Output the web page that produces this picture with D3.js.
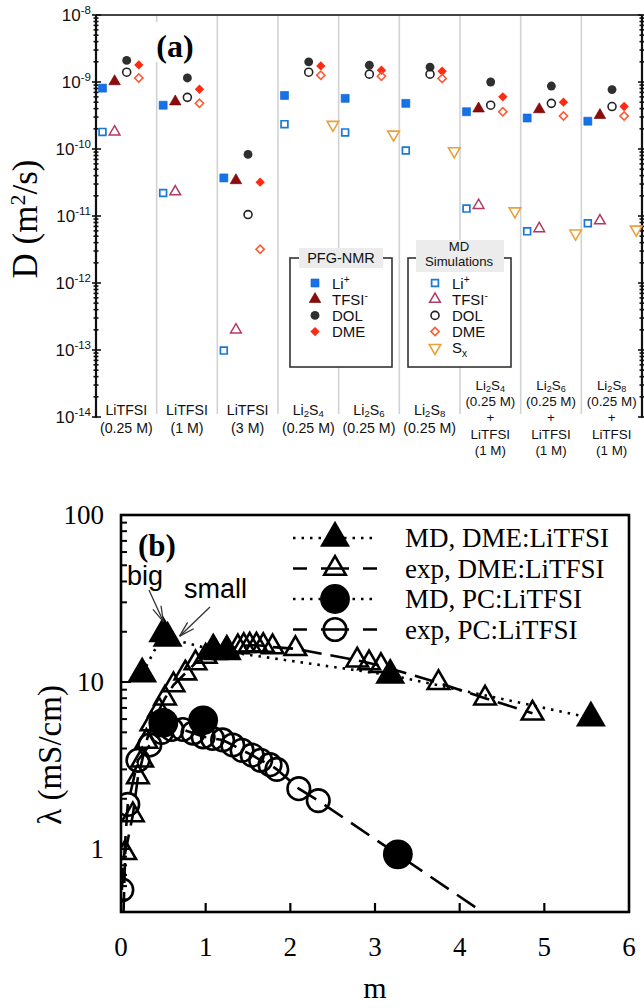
<!DOCTYPE html>
<html><head><meta charset="utf-8">
<script src="https://cdn.jsdelivr.net/npm/d3@7"></script>
<style>body{margin:0;background:#fff} svg{display:block}</style>
</head><body>
<svg id="c" width="644" height="1008"></svg>
<script>
// ================= Panel (a) data =================
const groupLabels = [
  ["LiTFSI","(0.25 M)"], ["LiTFSI","(1 M)"], ["LiTFSI","(3 M)"],
  ["Li_2S_4","(0.25 M)"], ["Li_2S_6","(0.25 M)"], ["Li_2S_8","(0.25 M)"],
  ["Li_2S_4","(0.25 M)","+","LiTFSI","(1 M)"],
  ["Li_2S_6","(0.25 M)","+","LiTFSI","(1 M)"],
  ["Li_2S_8","(0.25 M)","+","LiTFSI","(1 M)"]
];
const species = ["Li","TFSI","DOL","DME","Sx"];
// PFG-NMR (m^2/s)
const pfgLi   = [8.1e-10, 4.5e-10, 3.7e-11, 6.3e-10, 5.7e-10, 4.8e-10, 3.6e-10, 2.9e-10, 2.6e-10];
const pfgTFSI = [1.02e-9, 5.1e-10, 3.4e-11, null, null, null, 4.0e-10, 3.9e-10, 3.2e-10];
const pfgDOL  = [2.1e-9, 1.15e-9, 8.3e-11, 2.0e-9, 1.78e-9, 1.67e-9, 1.0e-9, 8.7e-10, 7.7e-10];
const pfgDME  = [1.8e-9, 7.8e-10, 3.2e-11, 1.74e-9, 1.5e-9, 1.45e-9, 6.0e-10, 5.0e-10, 4.3e-10];
// MD simulations (m^2/s)
const mdLi    = [1.8e-10, 2.2e-11, 9.8e-14, 2.35e-10, 1.77e-10, 9.5e-11, 1.29e-11, 5.9e-12, 7.8e-12];
const mdTFSI  = [1.8e-10, 2.3e-11, 2.0e-13, null, null, null, 1.44e-11, 6.5e-12, 8.5e-12];
const mdDOL   = [1.4e-9, 5.9e-10, 1.05e-11, 1.4e-9, 1.31e-9, 1.31e-9, 4.5e-10, 4.8e-10, 4.3e-10];
const mdDME   = [1.15e-9, 4.8e-10, 3.2e-12, 1.26e-9, 1.22e-9, 1.13e-9, 3.6e-10, 3.1e-10, 3.1e-10];
const mdSx    = [null, null, null, 2.3e-10, 1.65e-10, 9.3e-11, 1.18e-11, 5.5e-12, 6.3e-12];
const yTickExpA = [-14,-13,-12,-11,-10,-9,-8];
const pfgLegendLabels = ["Li^+","TFSI^-","DOL","DME"];
const mdLegendLabels  = ["Li^+","TFSI^-","DOL","DME","S_x"];

// ================= Panel (b) data =================
const mdDmeM = [0.25, 0.5, 0.55, 1.09, 1.25, 3.18, 5.55];
const mdDmeL = [11.2, 19.5, 18.3, 15.6, 15.2, 11.0, 6.1];
const expDmeM = [0.05, 0.14, 0.2, 0.25, 0.3, 0.36, 0.45, 0.52, 0.62, 0.76, 0.88, 1.0, 1.12, 1.25, 1.38, 1.45, 1.52, 1.6, 1.68, 1.79, 2.06, 2.79, 2.93, 3.07, 3.75, 4.3, 4.86];
const expDmeL = [0.95, 1.6, 2.7, 3.4, 4.4, 5.6, 6.8, 8.0, 9.6, 11.3, 13.0, 14.2, 15.0, 15.8, 16.2, 16.5, 16.6, 16.6, 16.5, 16.2, 15.8, 13.5, 13.0, 12.5, 9.9, 8.0, 6.5];
const expDmeTail = [[0.03, 0.42]];
const mdPcM = [0.5, 0.97, 3.27];
const mdPcL = [5.7, 5.9, 0.93];
const expPcM = [0.01, 0.08, 0.2, 0.34, 0.48, 0.6, 0.73, 0.85, 0.97, 1.08, 1.2, 1.32, 1.43, 1.55, 1.65, 1.76, 1.84, 2.1, 2.33];
const expPcL = [0.57, 1.85, 3.4, 4.2, 5.0, 5.2, 5.2, 4.95, 4.7, 4.6, 4.5, 4.2, 3.9, 3.65, 3.4, 3.2, 3.0, 2.3, 1.95];
const expPcTail = [[4.3, 0.41]];
const xTicksB = [0,1,2,3,4,5,6];
const yTicksB = [1,10,100];
const legendB = ["MD, DME:LiTFSI","exp, DME:LiTFSI","MD, PC:LiTFSI","exp, PC:LiTFSI"];

// ================= helpers =================
const SANS = "'Liberation Sans', Arial, Helvetica, sans-serif";
const SERIF = "'Liberation Serif', 'Times New Roman', Times, serif";
const svg = d3.select("#c");
svg.append("rect").attr("width",644).attr("height",1008).attr("fill","#fff");

function rich(textSel, str, fs, subK){
  const re = /([_^].)|([^_^]+)/g; let m; let shift = 0;
  const sk = subK==null ? 0.25 : subK;
  while((m = re.exec(str))){
    if(m[1]){
      const sub = m[1][0]==="_";
      const d = sub ? fs*sk : -fs*0.38;
      textSel.append("tspan").attr("dy", d - shift).attr("font-size", fs*0.68).text(m[1][1]);
      shift = d;
    } else {
      textSel.append("tspan").attr("dy", -shift).text(m[2]);
      shift = 0;
    }
  }
}

// ================= Panel (a) =================
const gA = svg.append("g");
const xA = d3.scaleBand().domain(d3.range(groupLabels.length)).range([96,642]);
const bw = xA.bandwidth();
const xSub = d3.scalePoint().domain(species).range([0.107, 0.905]);
const yA = d3.scaleLog().domain([1e-14,1e-8]).range([417,15]);

// group separators
gA.selectAll("line.grid").data(d3.range(1,groupLabels.length)).join("line")
  .attr("x1",d=>xA(d)).attr("x2",d=>xA(d)).attr("y1",15).attr("y2",414)
  .attr("stroke","#d2d2d2").attr("stroke-width",1.6);

// top line
gA.append("line").attr("x1",96).attr("x2",642).attr("y1",yA(1e-8)).attr("y2",yA(1e-8))
  .attr("stroke","#444").attr("stroke-width",2);

// left and right axes with crossing ticks
const ticksA = yA.ticks();
const isMajor = d => Math.abs(Math.log10(d)-Math.round(Math.log10(d)))<1e-6;
[96,642].forEach(ax=>{
  gA.append("line").attr("x1",ax).attr("x2",ax).attr("y1",yA(1e-8)).attr("y2",yA(1e-14)+1)
    .attr("stroke","#111").attr("stroke-width",2.2);
  gA.selectAll(null).data(ticksA).join("line")
    .attr("x1",d=>ax-(isMajor(d)?4:2.5))
    .attr("x2",d=>ax+(isMajor(d)?5:2.5))
    .attr("y1",d=>yA(d)).attr("y2",d=>yA(d)).attr("stroke","#111").attr("stroke-width",1.6);
});

// y tick labels
yTickExpA.forEach(e=>{
  const t = gA.append("text").attr("x",91).attr("y",yA(Math.pow(10,e))+6)
    .attr("text-anchor","end").attr("font-family",SANS).attr("font-size",17).attr("fill","#111");
  t.append("tspan").text("10");
  t.append("tspan").attr("dy",-7).attr("font-size",11.5).text("-"+Math.abs(e));
});

// y axis title
const ytA = gA.append("text").attr("transform","translate(37,219) rotate(-90)")
  .attr("text-anchor","middle").attr("font-family",SERIF).attr("font-size",35).attr("fill","#000");
ytA.append("tspan").text("D (m");
ytA.append("tspan").attr("dy",-12).attr("font-size",22).text("2");
ytA.append("tspan").attr("dy",12).text("/s)");

// (a) label
gA.append("rect").attr("x",150).attr("y",22).attr("width",50).attr("height",40).attr("fill","#fff");
gA.append("text").attr("x",175).attr("y",57).attr("text-anchor","middle")
  .attr("font-family",SERIF).attr("font-weight","bold").attr("font-size",32).text("(a)");

// x category labels (one text element per category, one tspan per line)
groupLabels.forEach((lines,i)=>{
  const cx = xA(i)+bw/2;
  const multi = lines.length>2;
  const y0 = multi ? 390 : 415;
  const step = multi ? 16.2 : 17.5;
  const fs = multi ? 13.4 : 14.2;
  const t = gA.append("text").attr("text-anchor","middle")
    .attr("font-family",SANS).attr("font-size",fs).attr("fill","#111");
  lines.forEach((ln,j)=>{
    const ts = t.append("tspan").attr("x",cx).attr("y",y0+j*step);
    rich(ts, ln, fs, 0.15);
  });
});

// markers
const diamond = d3.symbolSquare;
const seriesA = [
  {vals:pfgLi,   sp:"Li",   sym:d3.symbolSquare,   size:64, fill:"#1572e8", stroke:"#0f5fc8", sw:0.6, rot:0},
  {vals:pfgTFSI, sp:"TFSI", sym:d3.symbolTriangle, size:58, fill:"#8e0b0b", stroke:"#6d0000", sw:0.6, rot:0},
  {vals:pfgDOL,  sp:"DOL",  sym:d3.symbolCircle,   size:62, fill:"#2f2f2f", stroke:"none", sw:0, rot:0},
  {vals:pfgDME,  sp:"DME",  sym:diamond,           size:44, fill:"#ff2a12", stroke:"none", sw:0, rot:45},
  {vals:mdLi,    sp:"Li",   sym:d3.symbolSquare,   size:46, fill:"none", stroke:"#1a78d8", sw:1.7, rot:0},
  {vals:mdTFSI,  sp:"TFSI", sym:d3.symbolTriangle, size:50, fill:"none", stroke:"#b23a62", sw:1.5, rot:0},
  {vals:mdDOL,   sp:"DOL",  sym:d3.symbolCircle,   size:50, fill:"none", stroke:"#222", sw:1.6, rot:0},
  {vals:mdDME,   sp:"DME",  sym:diamond,           size:34, fill:"none", stroke:"#ff5a36", sw:1.6, rot:45},
  {vals:mdSx,    sp:"Sx",   sym:d3.symbolTriangle, size:58, fill:"none", stroke:"#e9a23b", sw:1.6, rot:180}
];
seriesA.forEach(s=>{
  const pts = s.vals.map((v,i)=>({v,i})).filter(d=>d.v!=null);
  gA.selectAll(null).data(pts).join("path")
    .attr("d", d3.symbol().type(s.sym).size(s.size))
    .attr("transform", d=>`translate(${xA(d.i)+xSub(s.sp)*bw},${yA(d.v)}) rotate(${s.rot})`)
    .attr("fill", s.fill).attr("stroke", s.stroke).attr("stroke-width", s.sw);
});

// legends (a)
function legendBox(x0,x1,y0,y1,titleLines,tx,tbg,fs,step,base){
  gA.append("rect").attr("x",x0).attr("y",y0).attr("width",x1-x0).attr("height",y1-y0)
    .attr("fill","#fff").attr("stroke","#333").attr("stroke-width",1.6);
  gA.append("rect").attr("x",tbg[0]).attr("y",tbg[1]).attr("width",tbg[2]).attr("height",tbg[3]).attr("fill","#ececec");
  const t = gA.append("text").attr("text-anchor","middle")
      .attr("font-family",SANS).attr("font-size",fs).attr("fill","#111");
  titleLines.forEach((ln,j)=>{
    t.append("tspan").attr("x",tx).attr("y",base+j*step).text(ln);
  });
}
legendBox(290,392,258,367,["PFG-NMR"],341,[299,248,84,20],14.5,0,263);
legendBox(408,511,258,367,["MD","Simulations"],459,[416,240,88,32],13.2,15,251);
const legA = d3.scaleLinear().domain([0,1]).range([0,16.2]);
[ {items:seriesA.slice(0,4), labels:pfgLegendLabels, mx:315, tx:332, y0:283},
  {items:seriesA.slice(4),   labels:mdLegendLabels,  mx:435, tx:452, y0:283} ].forEach(L=>{
  L.items.forEach((s,j)=>{
    const y = L.y0 + legA(j);
    gA.append("path").attr("d", d3.symbol().type(s.sym).size(s.size))
      .attr("transform",`translate(${L.mx},${y}) rotate(${s.rot})`)
      .attr("fill",s.fill).attr("stroke",s.stroke).attr("stroke-width",s.sw);
    const t = gA.append("text").attr("x",L.tx).attr("y",y+5.5)
      .attr("font-family",SANS).attr("font-size",15).attr("fill","#111");
    rich(t, L.labels[j], 15);
  });
});

// ================= Panel (b) =================
const gB = svg.append("g");
const xB = d3.scaleLinear().domain([0,6]).range([121,629]);
const yB = d3.scaleLog().domain([0.42,100]).range([912,515]);
svg.append("defs").append("clipPath").attr("id","clipB").append("rect")
  .attr("x",xB(0)).attr("y",yB(100)).attr("width",xB(6)-xB(0)).attr("height",yB(0.42)-yB(100));

// ticks
const ticksB = yB.ticks();
gB.selectAll(null).data(ticksB).join("line")
  .attr("x1",xB(0)).attr("x2",d=>xB(0)+(isMajor(d)?10:6))
  .attr("y1",d=>yB(d)).attr("y2",d=>yB(d)).attr("stroke","#000").attr("stroke-width",2);
gB.selectAll(null).data(xTicksB.slice(1,-1)).join("line")
  .attr("x1",d=>xB(d)).attr("x2",d=>xB(d)).attr("y1",yB(0.42)).attr("y2",yB(0.42)-9)
  .attr("stroke","#000").attr("stroke-width",2.2);
// frame
gB.append("rect").attr("x",xB(0)).attr("y",yB(100)).attr("width",xB(6)-xB(0)).attr("height",yB(0.42)-yB(100))
  .attr("fill","none").attr("stroke","#000").attr("stroke-width",2.6);

// tick labels
gB.selectAll(null).data(yTicksB).join("text")
  .attr("x",104).attr("y",d=>yB(d)+9).attr("text-anchor","end")
  .attr("font-family",SERIF).attr("font-size",27).text(d=>d);
gB.selectAll(null).data(xTicksB).join("text")
  .attr("x",d=>xB(d)).attr("y",956).attr("text-anchor","middle")
  .attr("font-family",SERIF).attr("font-size",27).text(d=>d);
gB.append("text").attr("x",375).attr("y",998).attr("text-anchor","middle")
  .attr("font-family",SERIF).attr("font-size",30).text("m");
gB.append("text").attr("transform","translate(61,755) rotate(-90)").attr("text-anchor","middle")
  .attr("font-family",SERIF).attr("font-size",33).text("λ (mS/cm)");

// lines
const lineB = d3.line().x(d=>xB(d[0])).y(d=>yB(d[1]));
const plot = gB.append("g").attr("clip-path","url(#clipB)");
const mdDmePts = mdDmeM.map((m,i)=>[m, mdDmeL[i]]);
const expDmePts = expDmeM.map((m,i)=>[m, expDmeL[i]]);
const mdPcPts = mdPcM.map((m,i)=>[m, mdPcL[i]]);
const expPcPts = expPcM.map((m,i)=>[m, expPcL[i]]);
plot.append("path").attr("d",lineB(expDmeTail.concat(expDmePts))).attr("fill","none")
  .attr("stroke","#000").attr("stroke-width",2.6).attr("stroke-dasharray","20,9");
plot.append("path").attr("d",lineB(expPcPts.concat(expPcTail))).attr("fill","none")
  .attr("stroke","#000").attr("stroke-width",2.6).attr("stroke-dasharray","22,10");
plot.append("path").attr("d",lineB(mdDmePts)).attr("fill","none")
  .attr("stroke","#000").attr("stroke-width",2.6).attr("stroke-dasharray","2.5,6");

// markers
const triOpen = d3.symbol().type(d3.symbolTriangle).size(200);
const triFill = d3.symbol().type(d3.symbolTriangle).size(390);
const cirOpen = d3.symbol().type(d3.symbolCircle).size(400);
const cirFill = d3.symbol().type(d3.symbolCircle).size(700);
plot.selectAll(null).data(expPcPts).join("path").attr("d",cirOpen)
  .attr("transform",d=>`translate(${xB(d[0])},${yB(d[1])})`).attr("fill","none").attr("stroke","#000").attr("stroke-width",2.6);
plot.selectAll(null).data(expDmePts).join("path").attr("d",triOpen)
  .attr("transform",d=>`translate(${xB(d[0])},${yB(d[1])})`).attr("fill","none").attr("stroke","#000").attr("stroke-width",2.6);
plot.selectAll(null).data(mdDmePts).join("path").attr("d",triFill)
  .attr("transform",d=>`translate(${xB(d[0])},${yB(d[1])})`).attr("fill","#000");
plot.selectAll(null).data(mdPcPts).join("path").attr("d",cirFill)
  .attr("transform",d=>`translate(${xB(d[0])},${yB(d[1])})`).attr("fill","#000");

// legend (b)
const legRow = d3.scaleLinear().domain([0,1]).range([538,568.5]);
const legStyles = [
  {dash:"2.5,6", sym:triFill, fill:"#000"},
  {dash:"14,14,28", sym:triOpen, fill:"none"},
  {dash:"2.5,6", sym:cirFill, fill:"#000"},
  {dash:"14,14,28", sym:cirOpen, fill:"none"}
];
legendB.forEach((lab,j)=>{
  const y = legRow(j), st = legStyles[j];
  gB.append("line").attr("x1",293).attr("x2",377).attr("y1",y).attr("y2",y)
    .attr("stroke","#000").attr("stroke-width",2.6).attr("stroke-dasharray", st.dash);
  gB.append("path").attr("d",st.sym).attr("transform",`translate(335,${y})`)
    .attr("fill",st.fill).attr("stroke",st.fill==="none"?"#000":"none").attr("stroke-width",2.6);
  gB.append("text").attr("x",405).attr("y",y+9).attr("font-family",SERIF).attr("font-size",27).text(lab);
});

// annotations
gB.append("text").attr("x",138).attr("y",556).attr("font-family",SERIF).attr("font-weight","bold")
  .attr("font-size",31).text("(b)");
gB.append("text").attr("x",127).attr("y",585).attr("font-family",SANS).attr("font-size",27).text("big");
gB.append("text").attr("x",184).attr("y",598).attr("font-family",SANS).attr("font-size",27).text("small");
function arrow(x1,y1,x2,y2){
  gB.append("line").attr("x1",x1).attr("y1",y1).attr("x2",x2).attr("y2",y2).attr("stroke","#333").attr("stroke-width",1.3);
  const a = Math.atan2(y1-y2,x1-x2);
  [-0.28,0.28].forEach(da=>{
    gB.append("line").attr("x1",x2).attr("y1",y2)
      .attr("x2",x2+16*Math.cos(a+da)).attr("y2",y2+16*Math.sin(a+da)).attr("stroke","#333").attr("stroke-width",1.3);
  });
}
arrow(149,590,xB(0.5),yB(19.5)-12);
arrow(210,607,xB(0.55)+12,yB(18.3)-2);
</script>
</body></html>
